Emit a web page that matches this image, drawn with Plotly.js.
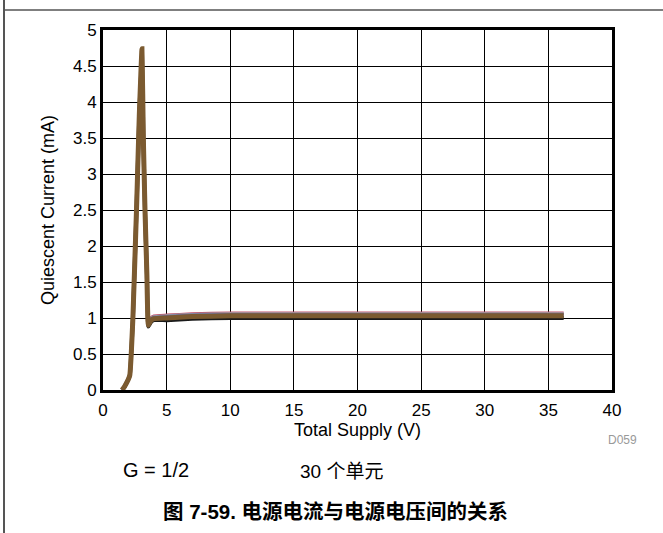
<!DOCTYPE html>
<html>
<head>
<meta charset="utf-8">
<script src="https://cdn.plot.ly/plotly-3.0.1.min.js"></script>
<style>html,body{margin:0;padding:0;background:#fff;}#chart{width:663px;height:533px;}</style>
</head>
<body>
<div id="chart"></div>
<script>
// Total supply (V)
const supplyV = [1.5, 1.7, 2.1, 2.35, 2.65, 2.85, 3.06, 3.17, 3.3, 3.45, 3.56, 3.75, 4.0, 5, 7, 10, 15, 20, 25, 30, 36.2];
// Quiescent current (mA) for several units (bundle of 30 units)
const unitBlack = [0, 0.05, 0.2, 1.0, 2.6, 3.8, 4.72, 3.5, 2.5, 1.6, 0.88, 0.94, 0.97, 0.97, 0.99, 1.0, 1.0, 1.0, 1.0, 1.0, 1.0];
const unitRed   = [0, 0.05, 0.2, 1.0, 2.6, 3.8, 4.74, 3.5, 2.5, 1.6, 0.92, 1.0, 1.03, 1.04, 1.06, 1.07, 1.07, 1.07, 1.07, 1.07, 1.07];
const unitGray  = [0, 0.05, 0.2, 1.0, 2.6, 3.8, 4.73, 3.5, 2.5, 1.6, 0.91, 0.99, 1.02, 1.03, 1.05, 1.06, 1.06, 1.06, 1.06, 1.06, 1.06];
const unitBlue  = [0, 0.05, 0.2, 1.0, 2.6, 3.8, 4.73, 3.5, 2.5, 1.6, 0.9, 0.98, 1.01, 1.02, 1.04, 1.05, 1.05, 1.05, 1.05, 1.05, 1.05];
const unitBrown = [0, 0.05, 0.2, 1.0, 2.6, 3.8, 4.74, 3.5, 2.5, 1.6, 0.9, 0.96, 0.99, 1.0, 1.02, 1.03, 1.03, 1.03, 1.03, 1.03, 1.03];
const xTicks = [0, 5, 10, 15, 20, 25, 30, 35, 40];
const yTicks = [0, 0.5, 1, 1.5, 2, 2.5, 3, 3.5, 4, 4.5, 5];

const series = [
  {y: unitBlack, color: '#1a1a1a', w: 4},
  {y: unitRed, color: '#c0506a', w: 3},
  {y: unitGray, color: '#9aa0a8', w: 3},
  {y: unitBlue, color: '#6a6aa0', w: 3},
  {y: unitBrown, color: '#7b5a30', w: 5}
];
const traces = series.map(s => ({
  x: supplyV, y: s.y, type: 'scatter', mode: 'lines',
  line: {color: s.color, width: s.w, shape: 'spline', smoothing: 0.3},
  hoverinfo: 'skip', showlegend: false
}));

const fontF = 'Liberation Sans, Arial, sans-serif';
const cjkF = 'Liberation Sans, Noto Sans CJK SC, sans-serif';
const px2x = p => (p - 103) / 509;
const py2y = p => (390 - p) / 360;

const layout = {
  width: 663, height: 533,
  margin: {l: 103, r: 51, t: 30, b: 143},
  paper_bgcolor: '#fff', plot_bgcolor: '#fff',
  font: {family: fontF, size: 17, color: '#000'},
  xaxis: {
    range: [0, 40], tickvals: xTicks, ticktext: xTicks.map(String),
    showgrid: true, gridcolor: '#000', gridwidth: 1,
    showline: true, linecolor: '#000', linewidth: 3, mirror: true,
    zeroline: false, ticks: '', ticklen: 0, ticklabelstandoff: 3,
    tickfont: {family: fontF, size: 17, color: '#000'},
    title: {text: 'Total Supply (V)', font: {family: fontF, size: 18, color: '#000'}, standoff: 4}
  },
  yaxis: {
    range: [0, 5], tickvals: yTicks, ticktext: yTicks.map(String),
    showgrid: true, gridcolor: '#000', gridwidth: 1,
    showline: true, linecolor: '#000', linewidth: 3, mirror: true,
    zeroline: false, ticks: '', ticklen: 0,
    tickfont: {family: fontF, size: 17, color: '#000'},
    title: {text: 'Quiescent Current (mA)', font: {family: fontF, size: 18, color: '#000'}, standoff: 14}
  },
  shapes: [
    {type: 'line', xref: 'paper', yref: 'paper', x0: px2x(4), x1: px2x(4), y0: py2y(0), y1: py2y(533), line: {color: '#555', width: 2}},
    {type: 'line', xref: 'paper', yref: 'paper', x0: px2x(4), x1: px2x(663), y0: py2y(10), y1: py2y(10), line: {color: '#555', width: 1.5}}
  ],
  annotations: [
    {text: 'D059', xref: 'paper', yref: 'paper', x: px2x(639), y: py2y(440), xanchor: 'right', yanchor: 'middle', showarrow: false, font: {family: fontF, size: 12, color: '#999'}},
    {text: 'G = 1/2', xref: 'paper', yref: 'paper', x: px2x(121), y: py2y(470), xanchor: 'left', yanchor: 'middle', showarrow: false, font: {family: fontF, size: 20, color: '#000'}},
    {text: '30 个单元', xref: 'paper', yref: 'paper', x: px2x(298), y: py2y(471), xanchor: 'left', yanchor: 'middle', showarrow: false, font: {family: cjkF, size: 19, color: '#000'}},
    {text: '<b>图 7-59. 电源电流与电源电压间的关系</b>', xref: 'paper', yref: 'paper', x: px2x(335), y: py2y(511), xanchor: 'center', yanchor: 'middle', showarrow: false, font: {family: cjkF, size: 20.5, color: '#000'}}
  ]
};

Plotly.newPlot('chart', traces, layout, {displayModeBar: false, staticPlot: true});
</script>
</body>
</html>
